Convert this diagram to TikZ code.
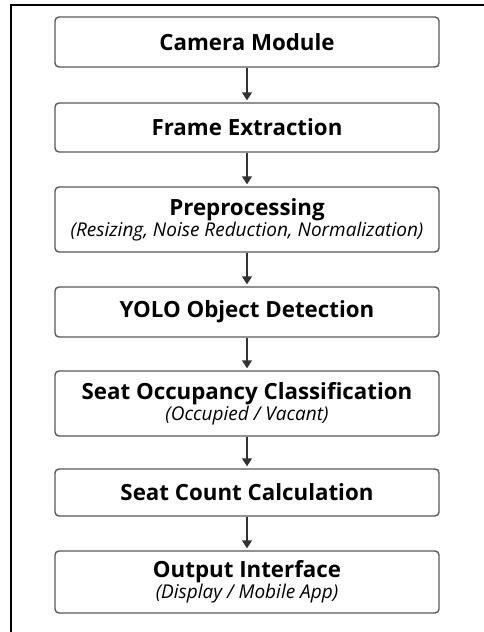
\documentclass[tikz,border=0pt]{standalone}
\usepackage{fontspec}
\setmainfont{Open Sans}
\usetikzlibrary{arrows.meta}
\begin{document}
\begin{tikzpicture}[x=1pt,y=-1pt,
  stepbox/.style={draw=black!65, line width=1.4pt, rounded corners=4pt, fill=white,
    minimum width=384pt, inner sep=0pt, align=center},
  flow/.style={draw=black!80, line width=1.4pt, -{Triangle[width=10pt,length=8pt]}, shorten >=2pt}
]
\useasboundingbox (0,0) rectangle (484,632);
\draw[line width=2pt] (10,5) -- (484,5);
\draw[line width=2pt] (11,5) -- (11,632);
\newcommand{\ttlfont}{\bfseries\fontsize{22.3}{26}\selectfont}
\newcommand{\sub}[1]{\\[0pt]{\itshape\fontsize{19}{22}\selectfont #1}}
\node[stepbox, minimum height=50pt] (b1) at (247,42) {\ttlfont Camera Module};
\node[stepbox, minimum height=49pt] (b2) at (247,127.5) {\ttlfont Frame Extraction};
\node[stepbox, minimum height=65pt] (b3) at (247,219.5) {{\ttlfont Preprocessing}\sub{(Resizing, Noise Reduction, Normalization)}};
\node[stepbox, minimum height=50pt] (b4) at (247,312) {\ttlfont YOLO Object Detection};
\node[stepbox, minimum height=65pt] (b5) at (247,403.5) {{\ttlfont Seat Occupancy Classification}\sub{(Occupied / Vacant)}};
\node[stepbox, minimum height=47pt] (b6) at (247,492.5) {\ttlfont Seat Count Calculation};
\node[stepbox, minimum height=62pt] (b7) at (247,582) {{\ttlfont Output Interface}\sub{(Display / Mobile App)}};
\foreach \a/\b in {b1/b2,b2/b3,b3/b4,b4/b5,b5/b6,b6/b7}
  \draw[flow] (\a) -- (\b);
\end{tikzpicture}
\end{document}
